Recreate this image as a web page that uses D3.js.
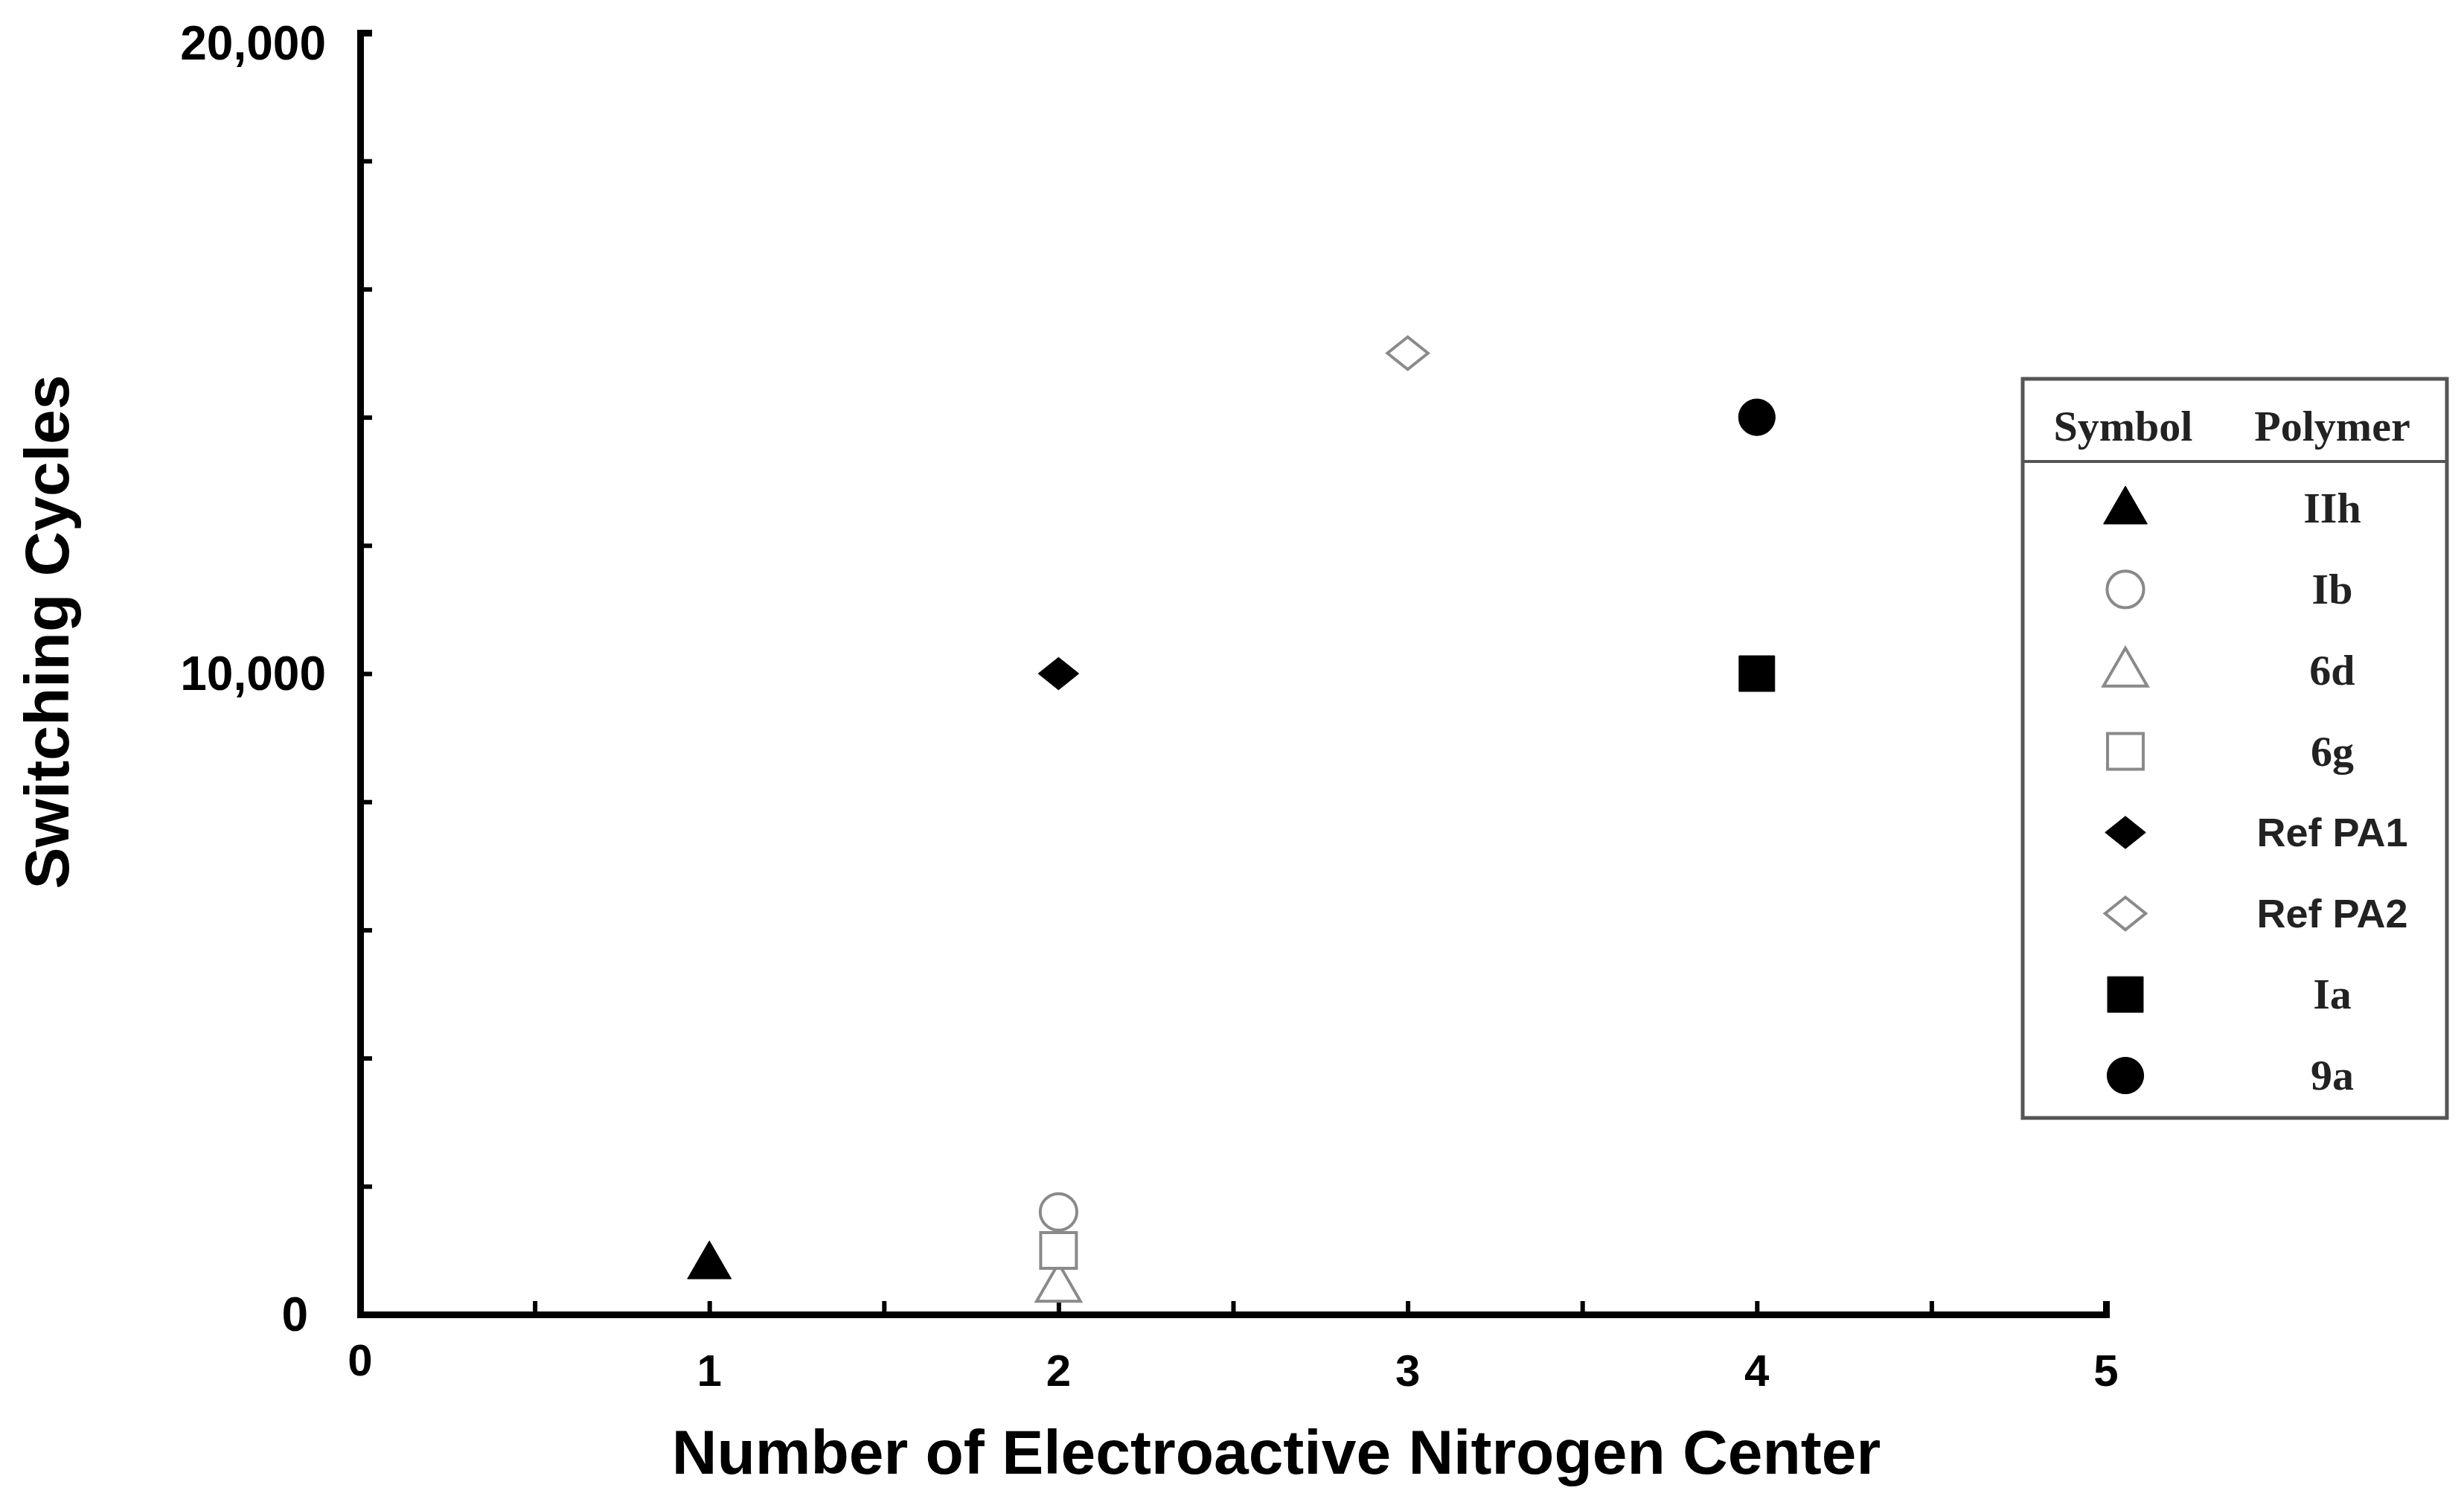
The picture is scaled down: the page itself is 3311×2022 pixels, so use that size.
<!DOCTYPE html>
<html><head><meta charset="utf-8">
<script src="https://cdn.jsdelivr.net/npm/d3@7"></script>
<style>body{margin:0;background:#fff}</style></head>
<body><svg id="c" width="3311" height="2022"></svg>
<script>
const polymers = ["IIh","Ib","6d","6g","Ref PA1","Ref PA2","Ia","9a"];
const xValues = [1,2,2,2,2,3,4,4];
const yValues = [800,1600,450,1000,10000,15000,10000,14000];
const shapes = ["triangle","circle","triangle","square","diamond","diamond","square","circle"];
const filled = [true,false,false,false,true,false,true,true];
const xTickLabels = [0,1,2,3,4,5];
const yTickLabels = [0,10000,20000];

const svg = d3.select("#c");
const x = d3.scaleLinear().domain([0,5]).range([484,2830]);
const y = d3.scaleLinear().domain([0,20000]).range([1766,44]);
const wideDiamond = {draw(ctx,size){const r=Math.sqrt(size)/2;ctx.moveTo(0,-r);ctx.lineTo(r*1.25,0);ctx.lineTo(0,r);ctx.lineTo(-r*1.25,0);ctx.closePath();}};
const sym = {triangle:d3.symbolTriangle,circle:d3.symbolCircle,square:d3.symbolSquare,diamond:wideDiamond};
const sizes = {triangle:1500,circle:1900,square:2300,diamond:1900};
function drawMarker(g,i,cx,cy){
  g.append("path").attr("d",d3.symbol().type(sym[shapes[i]]).size(sizes[shapes[i]])())
   .attr("transform",`translate(${cx},${cy})`+(shapes[i]==="triangle"?" translate(0,4)":""))
   .attr("fill",filled[i]?"#000":"#fff").attr("stroke",filled[i]?"#000":"#8a8a8a").attr("stroke-width",filled[i]?1:4);
}

const ax = svg.append("g").attr("transform",`translate(0,${y(0)})`)
  .call(d3.axisTop(x).tickValues(d3.range(0,5.01,0.5)).tickSize(18).tickFormat(""));
const ay = svg.append("g").attr("transform",`translate(${x(0)},0)`)
  .call(d3.axisRight(y).tickValues(d3.range(0,20001,2000)).tickSize(16).tickFormat(""));
[ax,ay].forEach(a=>{a.select(".domain").attr("stroke","#000").attr("stroke-width",9);
  a.selectAll(".tick line").attr("stroke","#000").attr("stroke-width",6);});

const font="Liberation Sans, Arial, sans-serif";
svg.selectAll(".xl").data(xTickLabels).join("text")
  .attr("x",d=>x(d)).attr("y",d=>d===0?1848:1862).attr("text-anchor","middle")
  .attr("font-family",font).attr("font-weight","bold").attr("font-size",60).text(d=>d);
svg.selectAll(".yl").data(yTickLabels).join("text")
  .attr("x",d=>d===0?414:438).attr("y",d=>y(d)+(d===20000?36:22)).attr("text-anchor","end")
  .attr("font-family",font).attr("font-weight","bold").attr("font-size",64).text(d=>d3.format(",")(d));

svg.append("text").attr("x",1715).attr("y",1980).attr("text-anchor","middle")
  .attr("font-family",font).attr("font-weight","bold").attr("font-size",84).text("Number of Electroactive Nitrogen Center");
svg.append("text").attr("transform","translate(92,849) rotate(-90)").attr("text-anchor","middle")
  .attr("font-family",font).attr("font-weight","bold").attr("font-size",84).text("Switching Cycles");

const pts = svg.append("g");
polymers.forEach((p,i)=>drawMarker(pts,i,x(xValues[i]),y(yValues[i])));

const lg = svg.append("g");
lg.append("rect").attr("x",2718).attr("y",509).attr("width",570).attr("height",993)
  .attr("fill","#fff").attr("stroke","#555").attr("stroke-width",5);
lg.append("line").attr("x1",2718).attr("x2",3288).attr("y1",620).attr("y2",620).attr("stroke","#555").attr("stroke-width",4);
const serif="Liberation Serif, Times New Roman, serif";
lg.append("text").attr("x",2853).attr("y",592).attr("text-anchor","middle").attr("font-family",serif)
  .attr("font-weight","bold").attr("font-size",58).attr("fill","#222").text("Symbol");
lg.append("text").attr("x",3134).attr("y",592).attr("text-anchor","middle").attr("font-family",serif)
  .attr("font-weight","bold").attr("font-size",58).attr("fill","#222").text("Polymer");
const rowY = d3.scaleLinear().domain([0,7]).range([683,1445]);
polymers.forEach((p,i)=>{
  const cy=rowY(i);
  drawMarker(lg,i,2856,cy);
  const sans = p.startsWith("Ref");
  lg.append("text").attr("x",3134).attr("y",cy+19).attr("text-anchor","middle")
    .attr("font-family",sans?font:serif).attr("font-weight","bold").attr("font-size",sans?54:58)
    .attr("fill","#222").text(p);
});
</script></body></html>
